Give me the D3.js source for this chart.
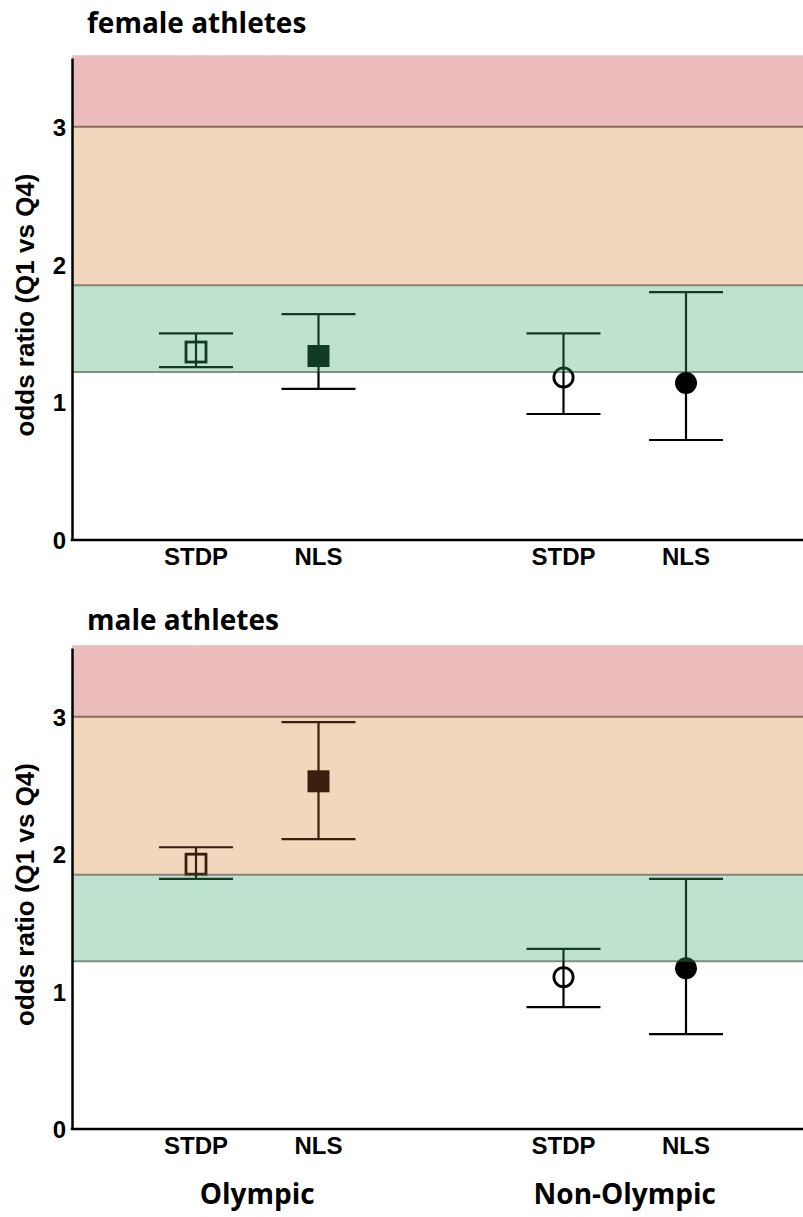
<!DOCTYPE html>
<html>
<head>
<meta charset="utf-8">
<script src="https://cdn.jsdelivr.net/npm/d3@7"></script>
<style>
  body { margin: 0; background: #fff; }
  svg text { fill: #000; }
</style>
</head>
<body>
<div id="chart"></div>
<script>
// categories along the x axis (an empty slot separates the two groups)
let slots = ["Olympic|STDP", "Olympic|NLS", "gap", "Non-Olympic|STDP", "Non-Olympic|NLS"];
let methods = ["STDP", "NLS", "STDP", "NLS"];
let groups = ["Olympic", "Olympic", "Non-Olympic", "Non-Olympic"];
let markers = ["square-open", "square", "circle-open", "circle"];

// odds ratio with lower / upper CI
let femaleOR = [1.365, 1.336, 1.18, 1.14];
let femaleLo = [1.256, 1.097, 0.915, 0.726];
let femaleHi = [1.50, 1.64, 1.50, 1.80];

let maleOR = [1.927, 2.53, 1.105, 1.17];
let maleLo = [1.82, 2.11, 0.887, 0.69];
let maleHi = [2.05, 2.96, 1.31, 1.82];

// effect size zones (small / medium / large)
let zoneBreaks = [0, 1.22, 1.85, 3.0, 3.52];
let zoneFill = ["#ffffff", "#bfe2ce", "#f3d7bc", "#edbdbe"];
let zoneInk = ["#000000", "#123b23", "#3a1f0e", "#5a1a1a"];
let zoneLine = [null, "#7f8f85", "#8a827a", "#8b6c60"];

let yTicks = [0, 1, 2, 3];
let groupNames = ["Olympic", "Non-Olympic"];

let W = 803, H = 1217;
let svg = d3.select("#chart").append("svg").attr("width", W).attr("height", H);

let x = d3.scalePoint().domain(slots).range([196, 686]);
let keys = methods.map((m, i) => groups[i] + "|" + m);

let panels = [
  { title: "female athletes", titleY: 33, top: 58, bottom: 540, or: femaleOR, lo: femaleLo, hi: femaleHi },
  { title: "male athletes", titleY: 630, top: 648, bottom: 1129, or: maleOR, lo: maleLo, hi: maleHi }
];

let axisX = 72;

panels.forEach(function (p, pi) {
  let y = d3.scaleLinear().domain([0, 3.5]).range([p.bottom, p.top]);
  let g = svg.append("g");

  // zone backgrounds
  for (let z = 0; z < zoneFill.length; z++) {
    g.append("rect")
      .attr("x", axisX)
      .attr("y", y(zoneBreaks[z + 1]))
      .attr("width", W - axisX)
      .attr("height", y(zoneBreaks[z]) - y(zoneBreaks[z + 1]))
      .attr("fill", zoneFill[z]);
  }
  for (let z = 1; z < zoneLine.length; z++) {
    g.append("line")
      .attr("x1", axisX).attr("x2", W)
      .attr("y1", y(zoneBreaks[z])).attr("y2", y(zoneBreaks[z]))
      .attr("stroke", zoneLine[z]).attr("stroke-width", 2);
  }

  // clip paths, one per zone, so the ink changes colour with the zone
  let defs = svg.append("defs");
  for (let z = 0; z < zoneFill.length; z++) {
    let top = z === zoneFill.length - 1 ? 0 : y(zoneBreaks[z + 1]);
    let bot = z === 0 ? H : y(zoneBreaks[z]);
    defs.append("clipPath").attr("id", "clip" + pi + "_" + z)
      .append("rect")
      .attr("x", 0).attr("width", W)
      .attr("y", top).attr("height", bot - top);
  }

  for (let z = 0; z < zoneFill.length; z++) {
    let layer = g.append("g").attr("clip-path", "url(#clip" + pi + "_" + z + ")");
    let ink = zoneInk[z];
    let items = layer.selectAll("g.item")
      .data(keys)
      .enter()
      .append("g")
      .attr("class", "item")
      .attr("transform", d => "translate(" + x(d) + ",0)");

    items.append("line")
      .attr("y1", (d, i) => y(p.lo[i])).attr("y2", (d, i) => y(p.hi[i]))
      .attr("stroke", ink).attr("stroke-width", 2.2);
    items.append("line")
      .attr("x1", -37).attr("x2", 37)
      .attr("y1", (d, i) => y(p.lo[i])).attr("y2", (d, i) => y(p.lo[i]))
      .attr("stroke", ink).attr("stroke-width", 2.2);
    items.append("line")
      .attr("x1", -37).attr("x2", 37)
      .attr("y1", (d, i) => y(p.hi[i])).attr("y2", (d, i) => y(p.hi[i]))
      .attr("stroke", ink).attr("stroke-width", 2.2);

    items.each(function (d, i) {
      let m = markers[i];
      let el = d3.select(this);
      let cy = y(p.or[i]);
      if (m.startsWith("square")) {
        let s = m === "square" ? 22 : 20;
        el.append("rect")
          .attr("x", -s / 2).attr("y", cy - s / 2)
          .attr("width", s).attr("height", s)
          .attr("fill", m === "square" ? ink : "none")
          .attr("stroke", ink).attr("stroke-width", m === "square" ? 0 : 2.8);
      } else {
        let r = m === "circle" ? 11 : 9.6;
        el.append("circle")
          .attr("cy", cy).attr("r", r)
          .attr("fill", m === "circle" ? ink : "none")
          .attr("stroke", ink).attr("stroke-width", m === "circle" ? 0 : 2.8);
      }
    });
  }

  // axes
  let yAxis = g.append("g")
    .attr("transform", "translate(" + axisX + ",0)")
    .call(d3.axisLeft(y).tickValues(yTicks).tickSize(0).tickPadding(6).tickFormat(d3.format("d")));
  yAxis.select(".domain").attr("stroke", "#000").attr("stroke-width", 2.5);
  yAxis.selectAll("text")
    .attr("font-family", "'Liberation Sans', Arial, sans-serif")
    .attr("font-weight", "bold").attr("font-size", 24).attr("dy", "0.36em");

  g.append("line")
    .attr("x1", axisX - 1.25).attr("x2", W)
    .attr("y1", p.bottom).attr("y2", p.bottom)
    .attr("stroke", "#000").attr("stroke-width", 2.5);

  g.selectAll("text.method")
    .data(keys)
    .enter()
    .append("text")
    .attr("class", "method")
    .attr("x", d => x(d))
    .attr("y", p.bottom + 25)
    .attr("text-anchor", "middle")
    .attr("font-family", "'Liberation Sans', Arial, sans-serif")
    .attr("font-weight", "bold").attr("font-size", 24)
    .text((d, i) => methods[i]);

  g.append("text")
    .attr("transform", "translate(34," + (p.top + p.bottom + 12) / 2 + ") rotate(-90)")
    .attr("text-anchor", "middle")
    .attr("font-family", "'Liberation Sans', Arial, sans-serif")
    .attr("font-weight", "bold").attr("font-size", 26)
    .text("odds ratio (Q1 vs Q4)");

  g.append("text")
    .attr("x", 87).attr("y", p.titleY)
    .attr("font-family", "'Open Sans', sans-serif")
    .attr("font-weight", "bold").attr("font-size", 28)
    .text(p.title);
});

// group labels below the lower panel
svg.selectAll("text.group")
  .data(groupNames)
  .enter()
  .append("text")
  .attr("class", "group")
  .attr("x", gName => d3.mean(keys.filter((k, i) => groups[i] === gName), k => x(k)))
  .attr("y", 1204)
  .attr("text-anchor", "middle")
  .attr("font-family", "'Open Sans', sans-serif")
  .attr("font-weight", "bold").attr("font-size", 28)
  .text(d => d);
</script>
</body>
</html>
